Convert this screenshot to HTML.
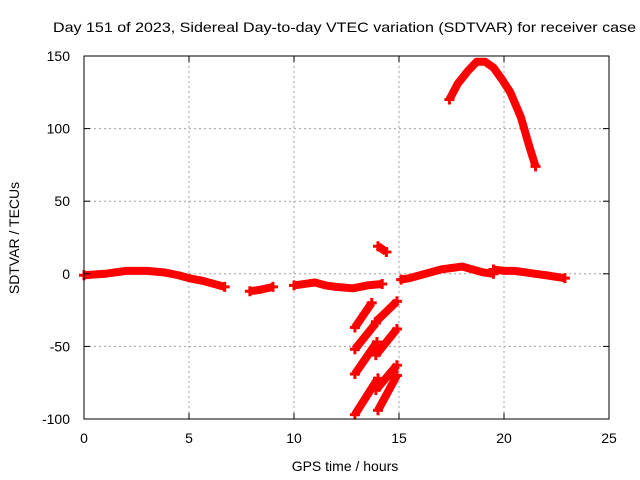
<!DOCTYPE html>
<html><head><meta charset="utf-8"><style>body{margin:0;background:#fff}svg{display:block;font-family:"Liberation Sans",sans-serif}</style></head>
<body>
<svg id="chart" width="640" height="480">
<text x="53" y="32" font-size="14" textLength="583" lengthAdjust="spacingAndGlyphs">Day 151 of 2023, Sidereal Day-to-day VTEC variation (SDTVAR) for receiver case</text>
<g id="grid"></g><g id="marks"></g><g id="axes"></g>
<text x="345" y="471" font-size="14" text-anchor="middle">GPS time / hours</text>
<text transform="translate(19,238) rotate(-90)" font-size="14" text-anchor="middle">SDTVAR / TECUs</text>
</svg>
<script>
const xTicks=[0,5,10,15,20,25];
const yTicks=[-100,-50,0,50,100,150];
const segHours=[
 [0,1,2,3,3.8,4.5,5,5.7,6.7],
 [7.9,8.4,9.0],
 [10,10.5,11,11.5,12,12.8,13.5,14.2],
 [14,14.4],
 [15.1,15.5,16,16.5,17,17.5,18,18.5,19,19.5],
 [19.5,20,20.5,21,21.5,22,22.9],
 [17.4,17.8,18.3,18.7,19.1,19.5,19.9,20.3,20.8,21.2,21.5],
 [12.9,13.7],[12.9,13.9],[12.9,13.95],[12.9,14.0],
 [13.9,14.9],[13.9,14.9],[13.9,14.9],[14.0,14.9]
];
const segValues=[
 [-1,0,2,2,1,-1,-3,-5,-9],
 [-12,-11,-9],
 [-8,-7,-6,-8,-9,-10,-8,-7],
 [19,15],
 [-4,-3,-1,1,3,4,5,3,1,0],
 [3,2,2,1,0,-1,-3],
 [120,131,140,146,146,142,134,125,108,88,74],
 [-37,-20],[-52,-34],[-69,-47],[-97,-72],
 [-33,-19],[-56,-38],[-80,-63],[-94,-70]
];
const NS="http://www.w3.org/2000/svg";
const X0=84,X1=609,Y0=419,Y1=56;
const xs=h=>X0+(h-0)/25*(X1-X0);
const ys=v=>Y0-(v+100)/250*(Y0-Y1);
function mk(t,a,p){const e=document.createElementNS(NS,t);for(const k in a)e.setAttribute(k,a[k]);p.appendChild(e);return e;}
const grid=document.getElementById('grid'),axes=document.getElementById('axes'),marks=document.getElementById('marks');
xTicks.forEach(t=>{
 if(t>0&&t<25){const g=mk('line',{x1:xs(t),x2:xs(t),y1:Y1,y2:Y0,stroke:'#a0a0a0','stroke-dasharray':'2,3'},grid);
 
 }
 mk('line',{x1:xs(t),x2:xs(t),y1:Y0,y2:Y0-6,stroke:'#000'},axes);
 mk('line',{x1:xs(t),x2:xs(t),y1:Y1,y2:Y1+6,stroke:'#000'},axes);
 const l=mk('text',{x:xs(t),y:Y0+24,'font-size':14,'text-anchor':'middle'},axes);l.textContent=t;
 
 
});
yTicks.forEach(t=>{
 if(t>-100&&t<150){const g=mk('line',{x1:X0,x2:X1,y1:ys(t),y2:ys(t),stroke:'#a0a0a0','stroke-dasharray':'2,3'},grid);
 
 }
 mk('line',{x1:X0,x2:X0+6,y1:ys(t),y2:ys(t),stroke:'#000'},axes);
 mk('line',{x1:X1,x2:X1-6,y1:ys(t),y2:ys(t),stroke:'#000'},axes);
 const l=mk('text',{x:70,y:ys(t)+5,'font-size':14,'text-anchor':'end'},axes);l.textContent=t;
 
 
});
const fr=mk('rect',{x:X0,y:Y1,width:X1-X0,height:Y0-Y1,fill:'none',stroke:'#000'},axes);


segHours.forEach((hs,i)=>{
 const pts=hs.map((h,j)=>xs(h)+','+ys(segValues[i][j])).join(' ');
 const pl=mk('polyline',{points:pts,fill:'none',stroke:'#f00','stroke-width':8,'stroke-linejoin':'round'},marks);
 
 
 [0,hs.length-1].forEach(j=>{
  const x=xs(hs[j]),y=ys(segValues[i][j]);
  const p=mk('path',{d:`M${x-5},${y}H${x+5}M${x},${y-5}V${y+5}`,stroke:'#f00','stroke-width':3},marks);
  
  
 });
});
</script>
</body></html>
